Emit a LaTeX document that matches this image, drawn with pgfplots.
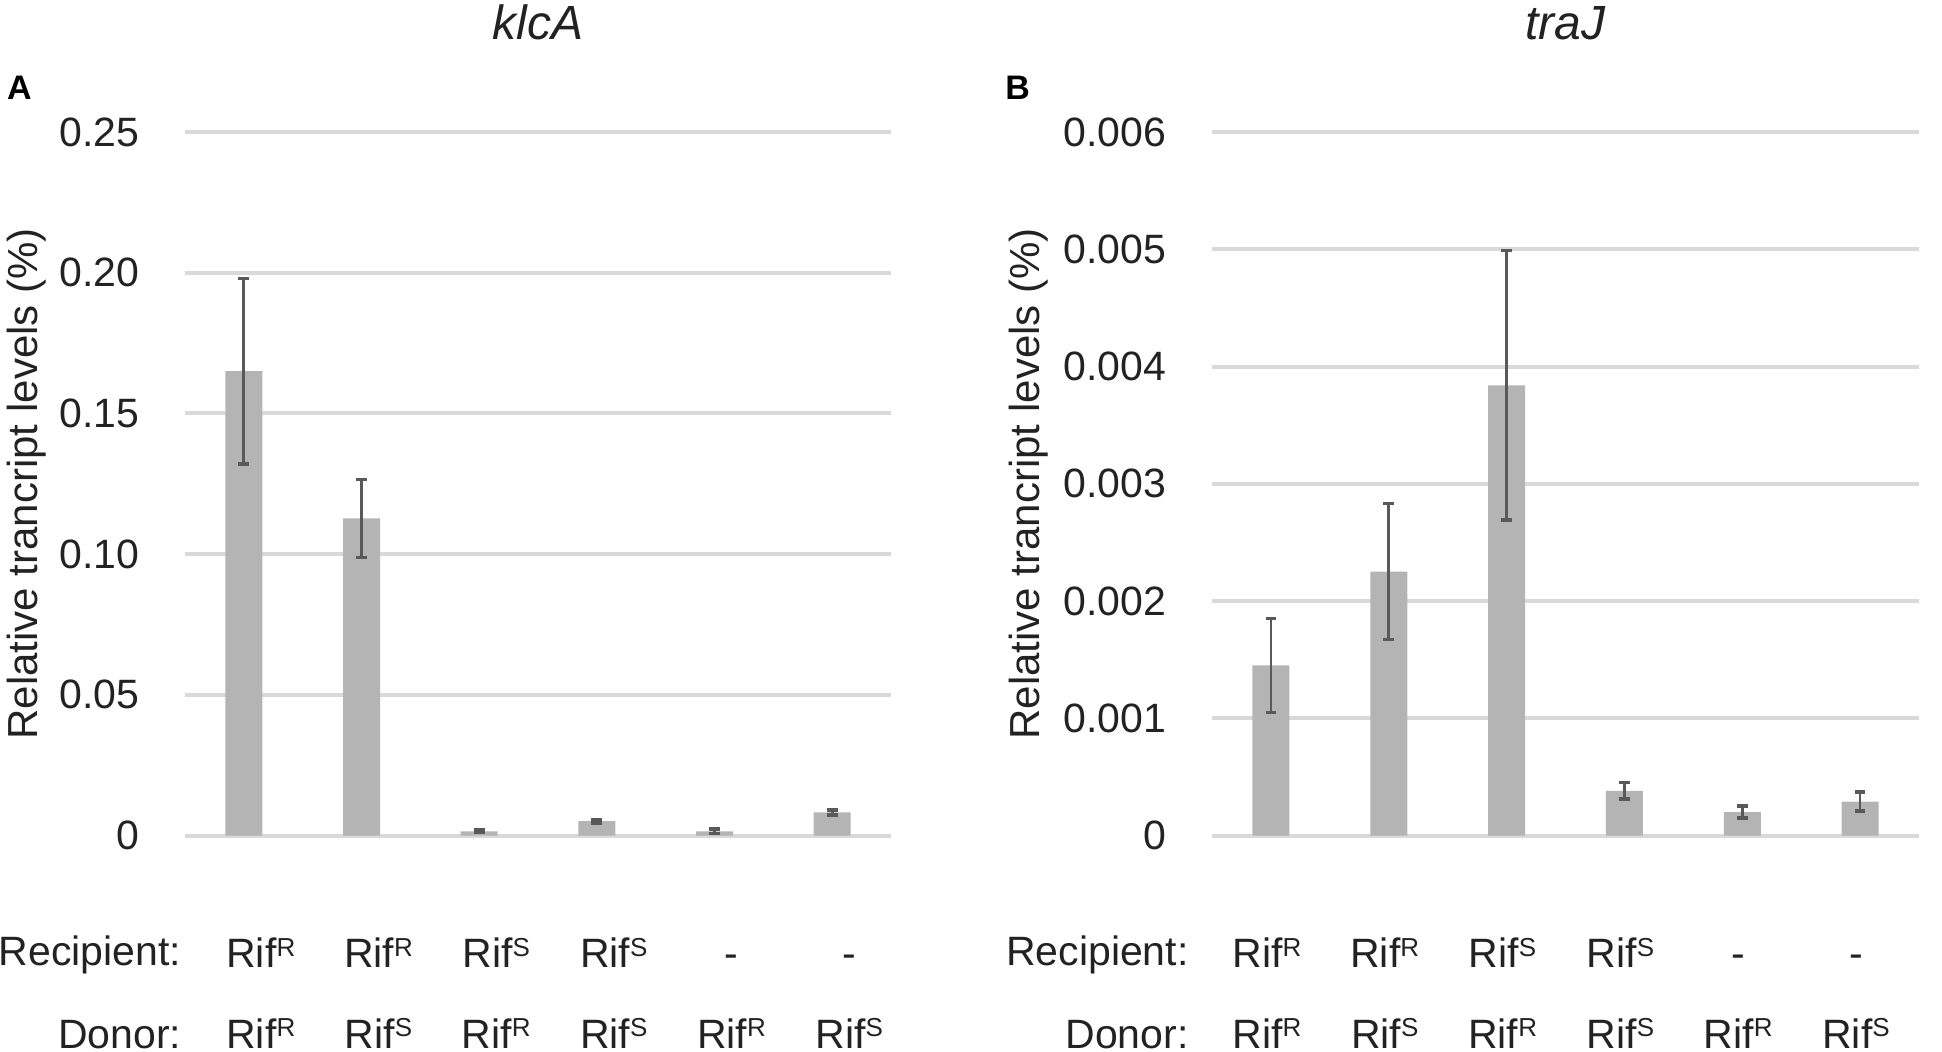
\documentclass[border=0pt]{standalone}
\usepackage{fontspec}
\setmainfont{Liberation Sans}
\usepackage{pgfplots}
\pgfplotsset{compat=1.18}
\definecolor{barc}{RGB}{180,180,180}
\definecolor{gridc}{RGB}{217,217,217}
\definecolor{errc}{RGB}{89,89,89}
\definecolor{txt}{RGB}{34,34,34}
\newcommand{\fs}{\fontsize{20.5}{24}\selectfont}
\newcommand{\sps}[1]{\raisebox{5.6pt}{\fontsize{13}{13}\selectfont #1}}
\newcommand{\RR}{Rif\sps{R}}
\newcommand{\RS}{Rif\sps{S}}
\tikzset{donor/.style={anchor=base, inner sep=0pt, font=\fs, text=txt, yshift=-106.25pt}}
\pgfplotsset{
 mybar/.style={
  scale only axis, width=353pt, height=351.75pt,
  anchor=south west, clip=false,
  xmin=-0.5, xmax=5.5, ymin=0,
  axis line style={draw=none},
  tick style={draw=none},
  ymajorgrids, major grid style={gridc, line width=2pt},
  xtick={0,1,2,3,4,5},
  scaled y ticks=false,
  ybar, bar width=18.5pt,
  yticklabel style={font=\fs, text=txt, anchor=east, inner sep=0pt, xshift=-22.75pt},
  xticklabel style={font=\fs, text=txt, anchor=base, inner sep=0pt, yshift=-61.75pt},
  xticklabels={\RR,\RR,\RS,\RS,-,-},
 },
 mybarplot/.style={fill=barc, draw=none,
  error bars/.cd, y dir=both, y explicit,
  error bar style={errc, line width=1.4pt},
  error mark options={rotate=90, errc, mark size=2.7pt, line width=1.7pt}}
}
\begin{document}
\begin{tikzpicture}
\useasboundingbox (0,0) rectangle (971pt,525.5pt);
\begin{axis}[mybar, at={(92.5pt,107.75pt)}, ymax=0.25,
  ytick={0,0.05,0.1,0.15,0.2,0.25},
  yticklabels={0,0.05,0.10,0.15,0.20,0.25},
  xticklabel style={xshift=8.5pt}]
\addplot[mybarplot] coordinates {
  (0,0.165)  +- (0,0.033)
  (1,0.1127) +- (0,0.0138)
  (2,0.0015) +- (0,0.0004)
  (3,0.0051) +- (0,0.0006)
  (4,0.0015) +- (0,0.0008)
  (5,0.0082) +- (0,0.0009)
};
\node[donor, xshift=8.5pt] at (axis cs:0,0) {\RR};
\node[donor, xshift=8.5pt] at (axis cs:1,0) {\RS};
\node[donor, xshift=8.5pt] at (axis cs:2,0) {\RR};
\node[donor, xshift=8.5pt] at (axis cs:3,0) {\RS};
\node[donor, xshift=8.5pt] at (axis cs:4,0) {\RR};
\node[donor, xshift=8.5pt] at (axis cs:5,0) {\RS};
\end{axis}
\begin{axis}[mybar, at={(606pt,107.75pt)}, width=353.5pt, ymax=0.006,
  ytick={0,0.001,0.002,0.003,0.004,0.005,0.006},
  yticklabels={0,0.001,0.002,0.003,0.004,0.005,0.006},
  xticklabel style={xshift=-2pt}]
\addplot[mybarplot] coordinates {
  (0,0.00145) +- (0,0.0004)
  (1,0.00225) +- (0,0.00058)
  (2,0.00384) +- (0,0.00115)
  (3,0.00038) +- (0,0.00007)
  (4,0.00020) +- (0,0.00005)
  (5,0.00029) +- (0,0.00008)
};
\node[donor, xshift=-2pt] at (axis cs:0,0) {\RR};
\node[donor, xshift=-2pt] at (axis cs:1,0) {\RS};
\node[donor, xshift=-2pt] at (axis cs:2,0) {\RR};
\node[donor, xshift=-2pt] at (axis cs:3,0) {\RS};
\node[donor, xshift=-2pt] at (axis cs:4,0) {\RR};
\node[donor, xshift=-2pt] at (axis cs:5,0) {\RS};
\end{axis}
\node[font=\fontsize{24}{24}\selectfont\itshape, text=txt, anchor=base, inner sep=0pt] at (269pt,505.5pt) {klcA};
\node[font=\fontsize{24}{24}\selectfont\itshape, text=txt, anchor=base, inner sep=0pt] at (782.75pt,505.5pt) {traJ};
\node[font=\fontsize{17}{17}\selectfont\bfseries, anchor=base west, inner sep=0pt] at (3.35pt,475.9pt) {A};
\node[font=\fontsize{17}{17}\selectfont\bfseries, anchor=base west, inner sep=0pt] at (502.5pt,475.9pt) {B};
\node[rotate=90, anchor=base, font=\fontsize{21}{21}\selectfont, text=txt, inner sep=0pt] at (18.5pt,283.6pt) {Relative trancript levels (\%)};
\node[rotate=90, anchor=base, font=\fontsize{21}{21}\selectfont, text=txt, inner sep=0pt] at (519.75pt,283.6pt) {Relative trancript levels (\%)};
\node[anchor=base east, inner sep=0pt, font=\fs, text=txt] at (90.85pt,43pt) {Recipient:};
\node[anchor=base east, inner sep=0pt, font=\fs, text=txt] at (90.85pt,1.5pt) {Donor:};
\node[anchor=base east, inner sep=0pt, font=\fs, text=txt] at (594.5pt,43pt) {Recipient:};
\node[anchor=base east, inner sep=0pt, font=\fs, text=txt] at (594.5pt,1.5pt) {Donor:};
\end{tikzpicture}
\end{document}
